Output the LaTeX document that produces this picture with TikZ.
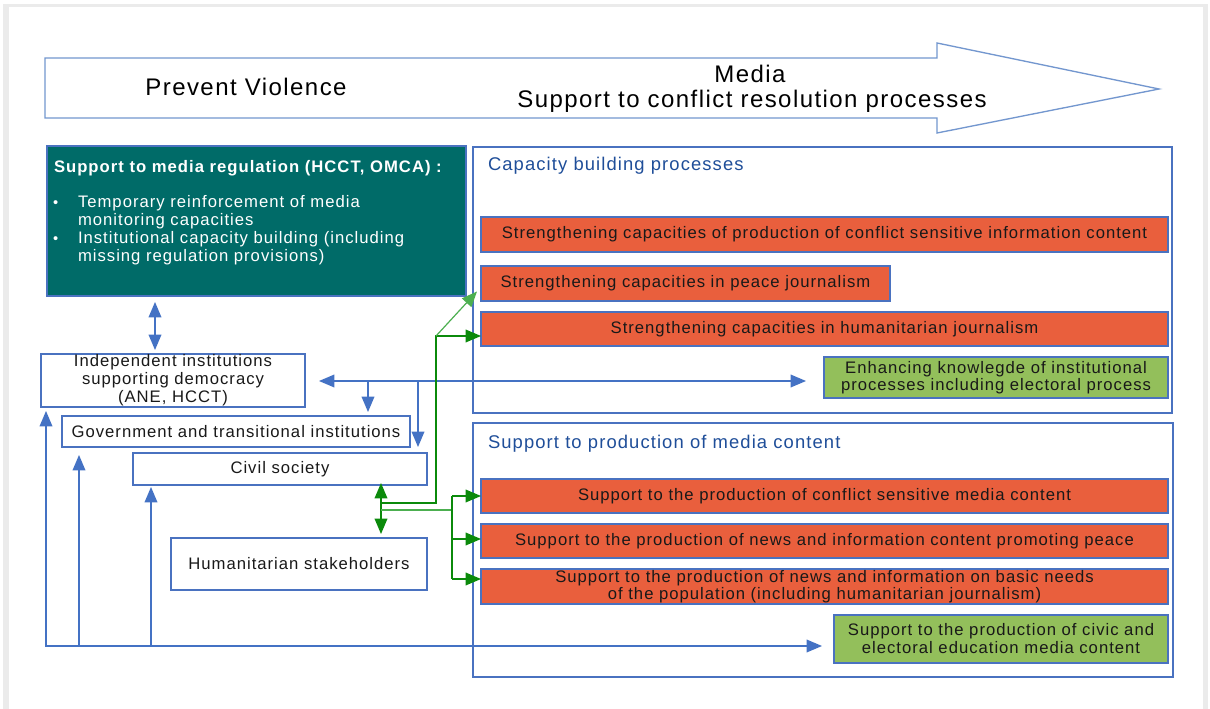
\documentclass[tikz,border=0pt]{standalone}
\usepackage{fontspec}
\setmainfont{Liberation Sans}[LetterSpace=6]
\usetikzlibrary{arrows.meta,calc}
\definecolor{tealbox}{HTML}{006B68}
\definecolor{orng}{HTML}{E95F3D}
\definecolor{grn}{HTML}{93BF5B}
\definecolor{bord}{HTML}{4A72C0}
\definecolor{bline}{HTML}{4472C4}
\definecolor{arrline}{HTML}{7397CF}
\definecolor{ttlblue}{HTML}{1F4E99}
\definecolor{garr}{HTML}{0B8A0B}
\definecolor{garr2}{HTML}{4CAF50}
\begin{document}
\begin{tikzpicture}[x=0.75pt,y=-0.75pt,
  >={Triangle[length=11.5pt,width=9.5pt]},
  txt/.style={font=\fontsize{12.5}{13.5}\selectfont},
  box/.style={draw=bord, line width=0.8pt, inner sep=0pt, outer sep=0pt, align=center, txt, text=black!90},
  orangebox/.style={box, fill=orng, minimum width=515.25pt, text height=9pt, text depth=2.5pt},
  greenbox/.style={box, fill=grn},
  whitebox/.style={box, fill=white},
  framebox/.style={draw=bord, line width=0.8pt, inner sep=0pt, outer sep=0pt},
  bl/.style={draw=bline, line width=1pt},
  gr/.style={draw=garr, line width=1pt},
  gr2/.style={draw=garr2, line width=0.9pt},
  plain/.style={inner sep=0pt, outer sep=0pt}
]
\useasboundingbox (0,0) rectangle (1210,709);
\fill[black!8] (3,4) rectangle (1208,709);
\fill[white] (9,7) rectangle (1203,709);

% big arrow
\draw[draw=arrline, line width=1pt, fill=white, line join=miter]
  (45,58) -- (937,58) -- (937,43) -- (1159,89) -- (937,133) -- (937,118) -- (45,118) -- cycle;
\node[plain, anchor=base, font=\fontsize{18}{20}\selectfont] (pv) at (246,96) {Prevent Violence};
\node[plain, anchor=base, font=\fontsize{18}{20}\selectfont] (med) at (750,83) {Media};
\node[plain, anchor=base, font=\fontsize{18}{20}\selectfont] (scr) at (752,108) {Support to conflict resolution processes};

% teal box
\node[framebox, fill=tealbox, minimum width=314.25pt, minimum height=112.5pt] (teal) at (256.5,221) {};
\node[plain, anchor=base west, text=white, font=\bfseries\fontsize{12.5}{13.5}\selectfont] (tt) at (54,173) {Support to media regulation (HCCT, OMCA) :};
\node[plain, anchor=base west, text=white, font=\fontsize{11}{12}\selectfont] (bu1) at (53,208) {•};
\node[plain, anchor=base west, text=white, font=\fontsize{11}{12}\selectfont] (bu2) at (53,244) {•};
\node[plain, anchor=base west, text=white, txt] (l1) at (78,208) {Temporary reinforcement of media};
\node[plain, anchor=base west, text=white, txt] (l2) at (78,226) {monitoring capacities};
\node[plain, anchor=base west, text=white, txt] (l3) at (78,244) {Institutional capacity building (including};
\node[plain, anchor=base west, text=white, txt] (l4) at (78,262) {missing regulation provisions)};

% frames
\node[framebox, fill=white, minimum width=524.25pt, minimum height=199.5pt] (cap) at (822.5,280) {};
\node[plain, anchor=base west, text=ttlblue, font=\fontsize{13.8}{15}\selectfont] (capt) at (488,171) {Capacity building processes};
\node[framebox, fill=white, minimum width=525pt, minimum height=190.5pt] (prod) at (823,550) {};
\node[plain, anchor=base west, text=ttlblue, font=\fontsize{13.8}{15}\selectfont] (prodt) at (488,448) {Support to production of media content};

% boxes in capacity building
\node[orangebox, minimum height=26.25pt] (b1) at (824.5,234.5) {Strengthening capacities of production of conflict sensitive information content};
\node[orangebox, minimum width=306.75pt, minimum height=26.25pt] (b2) at (685.5,283.5) {Strengthening capacities in peace journalism};
\node[orangebox, minimum height=25.5pt] (b3) at (824.5,329) {Strengthening capacities in humanitarian journalism};
\node[greenbox, minimum width=258pt, minimum height=30.75pt, font=\fontsize{12.5}{12.75}\selectfont] (g1) at (996,377.5) {Enhancing knowlegde of institutional\\processes including electoral process};

% boxes in production
\node[orangebox, minimum height=25.5pt] (b5) at (824.5,496) {Support to the production of conflict sensitive media content};
\node[orangebox, minimum height=25.5pt] (b6) at (824.5,541) {Support to the production of news and information content promoting peace};
\node[box, fill=orng, minimum width=515.25pt, minimum height=26.25pt, font=\fontsize{12.5}{12.75}\selectfont] (b7) at (824.5,586.5) {Support to the production of news and information on basic needs\\of the population (including humanitarian journalism)};
\node[greenbox, minimum width=250.5pt, minimum height=36pt, font=\fontsize{12.5}{13.5}\selectfont] (g2) at (1001,639) {Support to the production of civic and\\electoral education media content};

% left boxes
\node[whitebox, minimum width=198pt, minimum height=39.75pt] (indep) at (173,380.5) {Independent institutions\\supporting democracy\\(ANE, HCCT)};
\node[whitebox, minimum width=261pt, minimum height=23.25pt] (gov) at (236,431.5) {Government and transitional institutions};
\node[whitebox, minimum width=220.5pt, minimum height=24pt] (civ) at (280,469) {Civil society};
\node[whitebox, minimum width=192pt, minimum height=39pt] (hum) at (299,564) {Humanitarian stakeholders};

% helper coordinates
\coordinate (vA) at (155,0);
\coordinate (hA) at (0,381);
\coordinate (j1) at (368,381);
\coordinate (j2) at (418,381);
\coordinate (hB) at (0,646);
\coordinate (u1) at (46,646);
\coordinate (u2) at (79,646);
\coordinate (u3) at (151,646);
\coordinate (gv) at (381,0);
\coordinate (k1) at (381,503);
\coordinate (k2) at (436,503);
\coordinate (k3) at (436,336);
\coordinate (m1) at (381,510);
\coordinate (m2) at (452,510);
\coordinate (m3) at (452,496);
\coordinate (m4) at (452,539);
\coordinate (m5) at (452,579);

% blue connectors
\draw[bl,<->,shorten <=4.5pt,shorten >=3pt] (teal.south -| vA) -- (indep.north -| vA);
\draw[bl,<->,shorten <=10.5pt,shorten >=13.5pt] (indep.east |- hA) -- (g1.west |- hA);
\draw[bl,->,shorten >=3pt] (j1) -- (gov.north -| j1);
\draw[bl,->,shorten >=4.5pt] (j2) -- (civ.north -| j2);
\draw[bl,<->,shorten <=3pt,shorten >=9pt] (indep.south -| u1) -- (u1) -- (g2.west |- hB);
\draw[bl,->,shorten >=6pt] (u2) -- (gov.south -| u2);
\draw[bl,->,shorten >=1.5pt] (u3) -- (civ.south -| u3);

% green connectors
\draw[gr,<->,shorten <=-1.5pt,shorten >=3pt] (civ.south -| gv) -- (hum.north -| gv);
\draw[gr,->] (k1) -- (k2) -- (k3) -- (b3.west |- k3);
\draw[gr2,->] (k3) -- ([xshift=-3pt,yshift=-6pt]b2.west);
\draw[gr2] (m1) -- (m2);
\draw[gr] (m3) -- (m5);
\draw[gr,->] (m3) -- (b5.west |- m3);
\draw[gr,->] (m4) -- (b6.west |- m4);
\draw[gr,->] (m5) -- (b7.west |- m5);
\end{tikzpicture}
\end{document}
